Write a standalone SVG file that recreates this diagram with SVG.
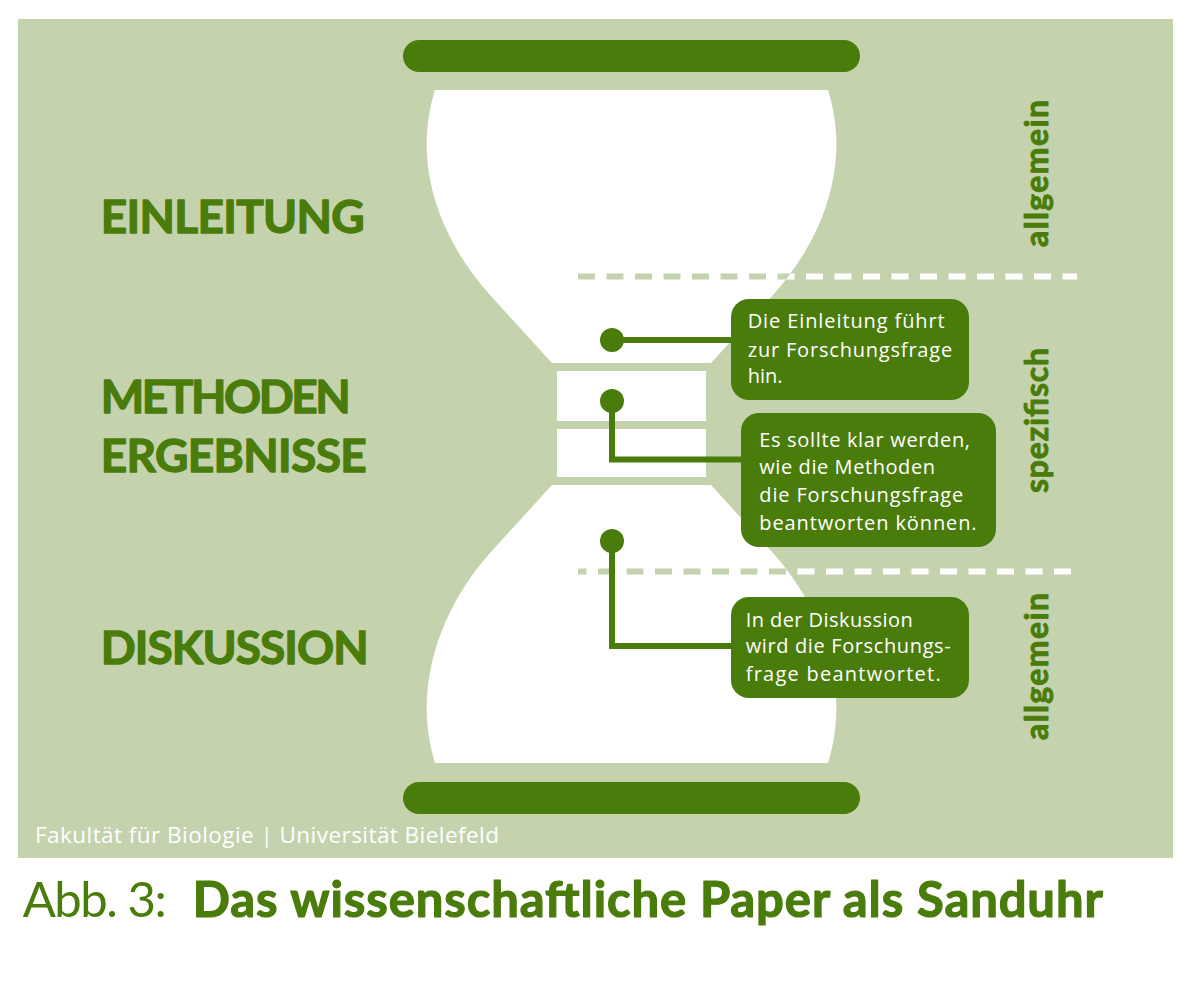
<svg xmlns="http://www.w3.org/2000/svg" xmlns:xlink="http://www.w3.org/1999/xlink" width="1192" height="1000" viewBox="0 0 1192 1000">
  <style>
    .dk { fill: #4a7c0b; }
    .bg { fill: #c4d3ad; }
    .wh { fill: #ffffff; }
    .head { font-family: Lato, "Open Sans", "Liberation Sans", sans-serif; font-weight: 700; font-size: 46px; fill: #4a7c0b; stroke: #4a7c0b; stroke-width: 1.3px; stroke-linejoin: round; }
    .vert { font-family: Lato, "Open Sans", "Liberation Sans", sans-serif; font-weight: 700; font-size: 32px; fill: #4a7c0b; stroke: #4a7c0b; stroke-width: 0.9px; stroke-linejoin: round; }
    .call { font-family: "Open Sans", "Liberation Sans", sans-serif; font-size: 20px; fill: #ffffff; }
    .foot { font-family: "Open Sans", "Liberation Sans", sans-serif; font-size: 22.5px; fill: #ffffff; }
    .cap { font-family: Lato, "Open Sans", "Liberation Sans", sans-serif; font-size: 49px; fill: #4a7c0b; }
    .capb { font-weight: 700; stroke: #4a7c0b; stroke-width: 1.2px; stroke-linejoin: round; }
    .conn { fill: none; stroke: #4a7c0b; stroke-width: 6; }
    .dash { fill: none; stroke-width: 6; stroke-dasharray: 17 11.5; }
  </style>
  <defs>
    <path id="bulbTop" d="M435,90 H828 C853,170 818,245 773,295 L711,363 H552 L490,295 C445,245 410,170 435,90 Z"/>
    <path id="bulbBot" d="M552,485 H711 L773,553 C818,603 853,683 828,763 H435 C410,683 445,603 490,553 Z"/>
    <clipPath id="hgClip">
      <use xlink:href="#bulbTop"/>
      <use xlink:href="#bulbBot"/>
    </clipPath>
  </defs>

  <rect x="0" y="0" width="1192" height="1000" fill="#ffffff"/>
  <rect class="bg" x="18" y="19" width="1155" height="839"/>

  <g id="hourglass">
    <rect class="dk" x="403" y="40" width="457" height="32" rx="16"/>
    <use xlink:href="#bulbTop" class="wh"/>
    <rect class="wh" x="557" y="371" width="149" height="50"/>
    <rect class="wh" x="557" y="429" width="149" height="48"/>
    <use xlink:href="#bulbBot" class="wh"/>
    <rect class="dk" x="403" y="782" width="457" height="32" rx="16"/>
  </g>

  <g id="dividers">
    <line class="dash" x1="578" y1="276.5" x2="1077" y2="276.5" stroke="#ffffff"/>
    <line class="dash" x1="578" y1="571.5" x2="1077" y2="571.5" stroke="#ffffff" stroke-dashoffset="8.5"/>
    <g clip-path="url(#hgClip)">
      <line class="dash" x1="578" y1="276.5" x2="1077" y2="276.5" stroke="#c4d3ad"/>
      <line class="dash" x1="578" y1="571.5" x2="1077" y2="571.5" stroke="#c4d3ad" stroke-dashoffset="8.5"/>
    </g>
  </g>

  <g id="label-einleitung">
    <text class="head" x="100.7" y="233.3" textLength="264">EINLEITUNG</text>
  </g>
  <g id="label-methoden">
    <text class="head" x="100.7" y="413.3" textLength="250">METHODEN</text>
  </g>
  <g id="label-ergebnisse">
    <text class="head" x="100.7" y="471.7" textLength="266">ERGEBNISSE</text>
  </g>
  <g id="label-diskussion">
    <text class="head" x="100.7" y="664.3" textLength="268">DISKUSSION</text>
  </g>

  <g id="connectors">
    <circle class="dk" cx="612" cy="340" r="12"/>
    <polyline class="conn" points="612,340 735,340"/>
    <circle class="dk" cx="612" cy="401" r="12"/>
    <polyline class="conn" points="612,401 612,459.5 745,459.5"/>
    <circle class="dk" cx="612" cy="541" r="12"/>
    <polyline class="conn" points="612,541 612,646 735,646"/>
  </g>

  <g id="callout-einleitung">
    <rect class="dk" x="731" y="299" width="238" height="101" rx="18"/>
    <text class="call" x="747.7" y="328.3" textLength="197">Die Einleitung führt</text>
    <text class="call" x="747.7" y="356.7" textLength="204.5">zur Forschungsfrage</text>
    <text class="call" x="747.7" y="383.3">hin.</text>
  </g>

  <g id="callout-methoden">
    <rect class="dk" x="741" y="413" width="255" height="134" rx="18"/>
    <text class="call" x="759.3" y="446.7" textLength="210.7">Es sollte klar werden,</text>
    <text class="call" x="759.3" y="474.3" textLength="175.7">wie die Methoden</text>
    <text class="call" x="759.3" y="501.7" textLength="204">die Forschungsfrage</text>
    <text class="call" x="759.3" y="530" textLength="217.3">beantworten können.</text>
  </g>

  <g id="callout-diskussion">
    <rect class="dk" x="731" y="597" width="238" height="101" rx="18"/>
    <text class="call" x="745.7" y="626.7" textLength="167">In der Diskussion</text>
    <text class="call" x="745.7" y="653.3" textLength="205">wird die Forschungs-</text>
    <text class="call" x="745.7" y="680.7" textLength="195">frage beantwortet.</text>
  </g>

  <g id="level-top">
    <text class="vert" transform="translate(1048,173.5) rotate(-90)" x="0" y="0" text-anchor="middle" textLength="147">allgemein</text>
  </g>
  <g id="level-middle">
    <text class="vert" transform="translate(1048,420.5) rotate(-90)" x="0" y="0" text-anchor="middle" textLength="145">spezifisch</text>
  </g>
  <g id="level-bottom">
    <text class="vert" transform="translate(1048,666.5) rotate(-90)" x="0" y="0" text-anchor="middle" textLength="147">allgemein</text>
  </g>

  <g id="footer">
    <text class="foot" x="35" y="843.3" textLength="464">Fakultät für Biologie | Universität Bielefeld</text>
  </g>

  <g id="caption">
    <text class="cap" x="22.7" y="917.3" textLength="144">Abb. 3:</text>
    <text class="cap capb" x="192.7" y="917.3" textLength="910">Das wissenschaftliche Paper als Sanduhr</text>
  </g>
</svg>
